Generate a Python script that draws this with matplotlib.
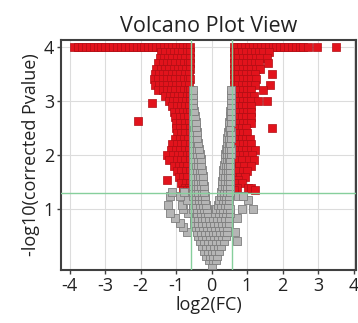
import matplotlib
matplotlib.use("Agg")
import matplotlib.pyplot as plt

# ---------------- data ----------------
# grey (non-significant) points, by row: -log10(p) value -> list of log2(FC)
grey_rows = {
    -0.03: [0.01],
    0.05: [-0.08, 0.03, 0.12],
    0.13: [-0.15, -0.05, 0.05, 0.15],
    0.22: [-0.22, -0.11, 0.0, 0.1, 0.2],
    0.31: [-0.27, -0.16, -0.05, 0.06, 0.17, 0.28],
    0.40: [-0.32, -0.21, -0.1, 0.01, 0.12, 0.23, 0.34, 0.72],
    0.50: [-0.37, -0.26, -0.15, -0.04, 0.07, 0.18, 0.29, 0.4],
    0.58: [-0.41, -0.3, -0.19, -0.08, 0.03, 0.14, 0.25, 0.36, 0.45, 0.66, -0.69],
    0.66: [-0.45, -0.34, -0.23, -0.12, -0.01, 0.1, 0.21, 0.32, 0.43, -0.8],
    0.74: [-0.48, -0.37, -0.26, -0.15, -0.04, 0.07, 0.18, 0.29, 0.4, 0.48, -0.89],
    0.83: [-0.5, -0.39, -0.28, -0.17, -0.07, 0.05, 0.16, 0.27, 0.38, 0.49, -1.03, 0.72],
    0.92: [-0.52, -0.41, -0.3, -0.19, -0.1, 0.1, 0.2, 0.31, 0.42, 0.52, -1.17, -0.66],
    1.00: [-0.53, -0.42, -0.31, -0.21, -0.13, 0.13, 0.23, 0.33, 0.43, 0.53, -0.8, 0.86, 1.17],
    1.08: [-0.53, -0.43, -0.33, -0.23, -0.15, 0.18, 0.28, 0.38, 0.47, -1.22, -0.83],
    1.17: [-0.53, -0.44, -0.35, -0.26, -0.17, 0.22, 0.31, 0.4, 0.48, 1.03, -0.7],
    1.25: [-0.53, -0.44, -0.35, -0.27, -0.19, 0.26, 0.34, 0.42, 0.5, 0.75, 0.89, -1.17, -0.89],
    1.32: [-0.53, -0.45, -0.37, -0.28, -0.2, 0.28, 0.36, 0.44, 0.52, -1.12, -0.78],
    1.42: [-0.53, -0.45, -0.37, -0.29, -0.21, 0.29, 0.37, 0.45, 0.53],
    1.52: [-0.53, -0.45, -0.38, -0.3, -0.23, 0.3, 0.38, 0.46, 0.53],
    1.62: [-0.53, -0.46, -0.39, -0.32, -0.25, 0.31, 0.39, 0.46, 0.53],
    1.72: [-0.53, -0.46, -0.4, -0.33, -0.27, 0.33, 0.4, 0.47, 0.53],
    1.82: [-0.53, -0.45, -0.37, -0.29, 0.35, 0.41, 0.47, 0.53],
    1.92: [-0.53, -0.46, -0.38, -0.31, 0.37, 0.43, 0.48, 0.53],
    2.02: [-0.53, -0.46, -0.4, -0.33, 0.39, 0.44, 0.49, 0.54],
    2.12: [-0.53, -0.47, -0.41, -0.35, 0.41, 0.45, 0.5, 0.54],
    2.22: [-0.53, -0.47, -0.42, -0.37, 0.43, 0.48, 0.53],
    2.32: [-0.53, -0.46, -0.4, 0.45, 0.5, 0.54],
    2.42: [-0.53, -0.47, -0.41, 0.47, 0.51, 0.55],
    2.52: [-0.53, -0.48, -0.43, 0.49, 0.53],
    2.62: [-0.53, -0.45, 0.5, 0.55],
    2.72: [-0.53, -0.47, 0.52, 0.56],
    2.82: [-0.53, -0.49, 0.53, 0.56],
    2.92: [-0.53, -0.51, 0.55],
    3.02: [-0.53, 0.56],
    3.12: [-0.52, 0.56],
    3.20: [-0.52, 0.55],
}

# red (significant) points capped at -log10(p) = 4
red_cap_x = [-3.88, -3.76, -3.65, -3.54, -3.43, -3.32, -3.21, -3.1, -2.99, -2.88,
             -2.77, -2.66, -2.55, -2.44, -2.33, -2.22, -2.11, -2.0, -1.89, -1.78,
             -1.67, -1.56, -1.45, -1.34, -1.23, -1.12, -1.01, -0.9, -0.8, -0.7, -0.6,
             0.62, 0.73, 0.84, 0.95, 1.06, 1.17, 1.28, 1.39, 1.5, 1.61, 1.72, 1.83,
             1.94, 2.05, 2.16, 2.27, 2.38, 2.48, 2.58, 2.73, 2.97, 3.5]

# red points below the cap, by row
red_rows = {
    3.9: [-1.42, -1.3, -1.18, -1.06, -0.94, -0.82, -0.7, -0.6,
          0.62, 0.74, 0.86, 0.98, 1.1, 1.22, 1.34, 1.46, 1.62],
    3.8: [-1.45, -1.35, -1.22, -1.1, -0.98, -0.86, -0.74, -0.62,
          0.64, 0.76, 0.88, 1.0, 1.12, 1.24, 1.36, 1.56],
    3.7: [-1.5, -1.38, -1.26, -1.14, -1.02, -0.9, -0.78, -0.66, -0.6,
          0.62, 0.74, 0.86, 0.98, 1.1, 1.22, 1.34, 1.6],
    3.6: [-1.55, -1.43, -1.31, -1.19, -1.07, -0.95, -0.83, -0.71, -0.6,
          0.64, 0.76, 0.88, 1.0, 1.12, 1.24, 1.37],
    3.5: [-1.6, -1.48, -1.36, -1.24, -1.12, -1.0, -0.88, -0.76, -0.64,
          0.62, 0.74, 0.86, 0.98, 1.1, 1.22, 1.7],
    3.4: [-1.62, -1.5, -1.38, -1.26, -1.14, -1.02, -0.9, -0.78, -0.66, -0.6,
          0.64, 0.76, 0.88, 1.0, 1.12, 1.25],
    3.3: [-1.6, -1.48, -1.36, -1.24, -1.12, -1.0, -0.88, -0.76, -0.64,
          0.62, 0.74, 0.86, 0.98, 1.1, 1.22, 1.65],
    3.2: [-1.5, -1.38, -1.26, -1.14, -1.02, -0.9, -0.78, -0.66, -0.6,
          0.64, 0.76, 0.88, 1.0, 1.12, 1.45],
    3.1: [-1.3, -1.18, -1.06, -0.94, -0.82, -0.7, -0.6,
          0.62, 0.74, 0.86, 0.98, 1.1, 1.2],
    3.0: [-1.2, -1.08, -0.96, -0.84, -0.72, -0.62,
          0.64, 0.76, 0.88, 1.0, 1.12, 1.31, 1.56],
    2.96: [-1.67],
    2.9: [-1.1, -0.98, -0.86, -0.74, -0.64, 0.62, 0.74, 0.86, 0.98, 1.1],
    2.8: [-1.05, -0.93, -0.81, -0.7, -0.6, 0.64, 0.76, 0.88, 1.0, 1.12],
    2.7: [-1.02, -0.9, -0.78, -0.66, 0.62, 0.74, 0.86, 0.98, 1.1],
    2.63: [-2.07],
    2.6: [-1.0, -0.88, -0.76, -0.64, 0.64, 0.76, 0.88, 1.0, 1.1],
    2.5: [-1.0, -0.88, -0.76, -0.62, 0.62, 0.74, 0.86, 0.98, 1.71],
    2.4: [-0.98, -0.86, -0.74, -0.62, 0.64, 0.76, 0.88, 1.0],
    2.3: [-1.02, -0.9, -0.78, -0.66, 0.62, 0.74, 0.86, 0.98, 1.08],
    2.2: [-1.1, -0.98, -0.86, -0.74, -0.62, 0.64, 0.76, 0.88, 1.0, 1.12],
    2.1: [-1.15, -1.0, -0.88, -0.76, -0.64, 0.62, 0.74, 0.86, 0.98, 1.1, 1.22],
    2.0: [-1.25, -1.08, -0.95, -0.82, -0.7, -0.6, 0.64, 0.76, 0.88, 1.0, 1.14],
    1.9: [-1.2, -0.98, -0.86, -0.74, -0.62, 0.62, 0.74, 0.86, 1.05, 1.2],
    1.8: [-1.05, -0.92, -0.8, -0.68, 0.66, 0.78, 0.92, 1.1],
    1.7: [-0.98, -0.85, -0.72, -0.6, 0.62, 0.74, 0.88, 1.0],
    1.6: [-0.93, -0.8, -0.68, 0.68, 0.8, 0.94],
    1.54: [-1.25, 0.75],
    1.48: [-0.85, -0.72, -0.62, 0.62, 0.72, 0.86],
    1.39: [-0.75, -0.64, 0.72, 1.03, 1.1],
    1.35: [-0.8, -0.7, -0.6, 0.62, 1.22],
}

fc_cutoff = 0.585          # log2(1.5)
p_cutoff = 1.30            # -log10(0.05)
x_ticks = [-4, -3, -2, -1, 0, 1, 2, 3, 4]
y_ticks = [1, 2, 3, 4]

grey_x = [x for y, xs in grey_rows.items() for x in xs]
grey_y = [y for y, xs in grey_rows.items() for x in xs]
red_x = list(red_cap_x) + [x for y, xs in red_rows.items() for x in xs]
red_y = [4.0] * len(red_cap_x) + [y for y, xs in red_rows.items() for x in xs]

# ---------------- figure ----------------
fig = plt.figure(figsize=(3.58, 3.23), dpi=100)
ax = fig.add_axes([0.1704, 0.164, 0.824, 0.712])
font = "Open Sans"

ax.set_xlim(-4.24, 4.07)
ax.set_ylim(-0.13, 4.13)
ax.set_xticks(x_ticks)
ax.set_yticks(y_ticks)
ax.grid(True, color="#dcdcdc", linewidth=0.8, zorder=0)
ax.set_axisbelow(True)

ax.scatter(red_x, red_y, marker="s", s=30, facecolor="#e2131c",
           edgecolor="#b00e14", linewidths=0.5, zorder=3)
ax.scatter(grey_x, grey_y, marker="s", s=27, facecolor="#b5b5b5",
           edgecolor="#7d7d7d", linewidths=0.6, zorder=4)

for xv in (-fc_cutoff, fc_cutoff):
    ax.axvline(xv, color="#86cf9c", linewidth=1.0, zorder=5)
ax.axhline(p_cutoff, color="#86cf9c", linewidth=1.0, zorder=5)

for sp in ax.spines.values():
    sp.set_color("#404040")
    sp.set_linewidth(1.5)

ax.tick_params(axis="both", length=3, width=1, color="#404040",
               labelsize=13, pad=2, labelcolor="#222222")
ax.set_xticklabels([str(t) if t >= 0 else "-" + str(-t) for t in x_ticks])
ax.set_yticklabels([str(t) for t in y_ticks])
for lab in ax.get_xticklabels() + ax.get_yticklabels():
    lab.set_fontfamily(font)

ax.set_xlabel("log2(FC)", fontsize=13, family=font, color="#222222", labelpad=1)
ax.set_ylabel("-log10(corrected Pvalue)", fontsize=13, family=font,
              color="#222222", labelpad=3)
ax.set_title("Volcano Plot View", fontsize=15.5, family=font, color="#222222", pad=6)

fig.savefig("out.png", dpi=100)
